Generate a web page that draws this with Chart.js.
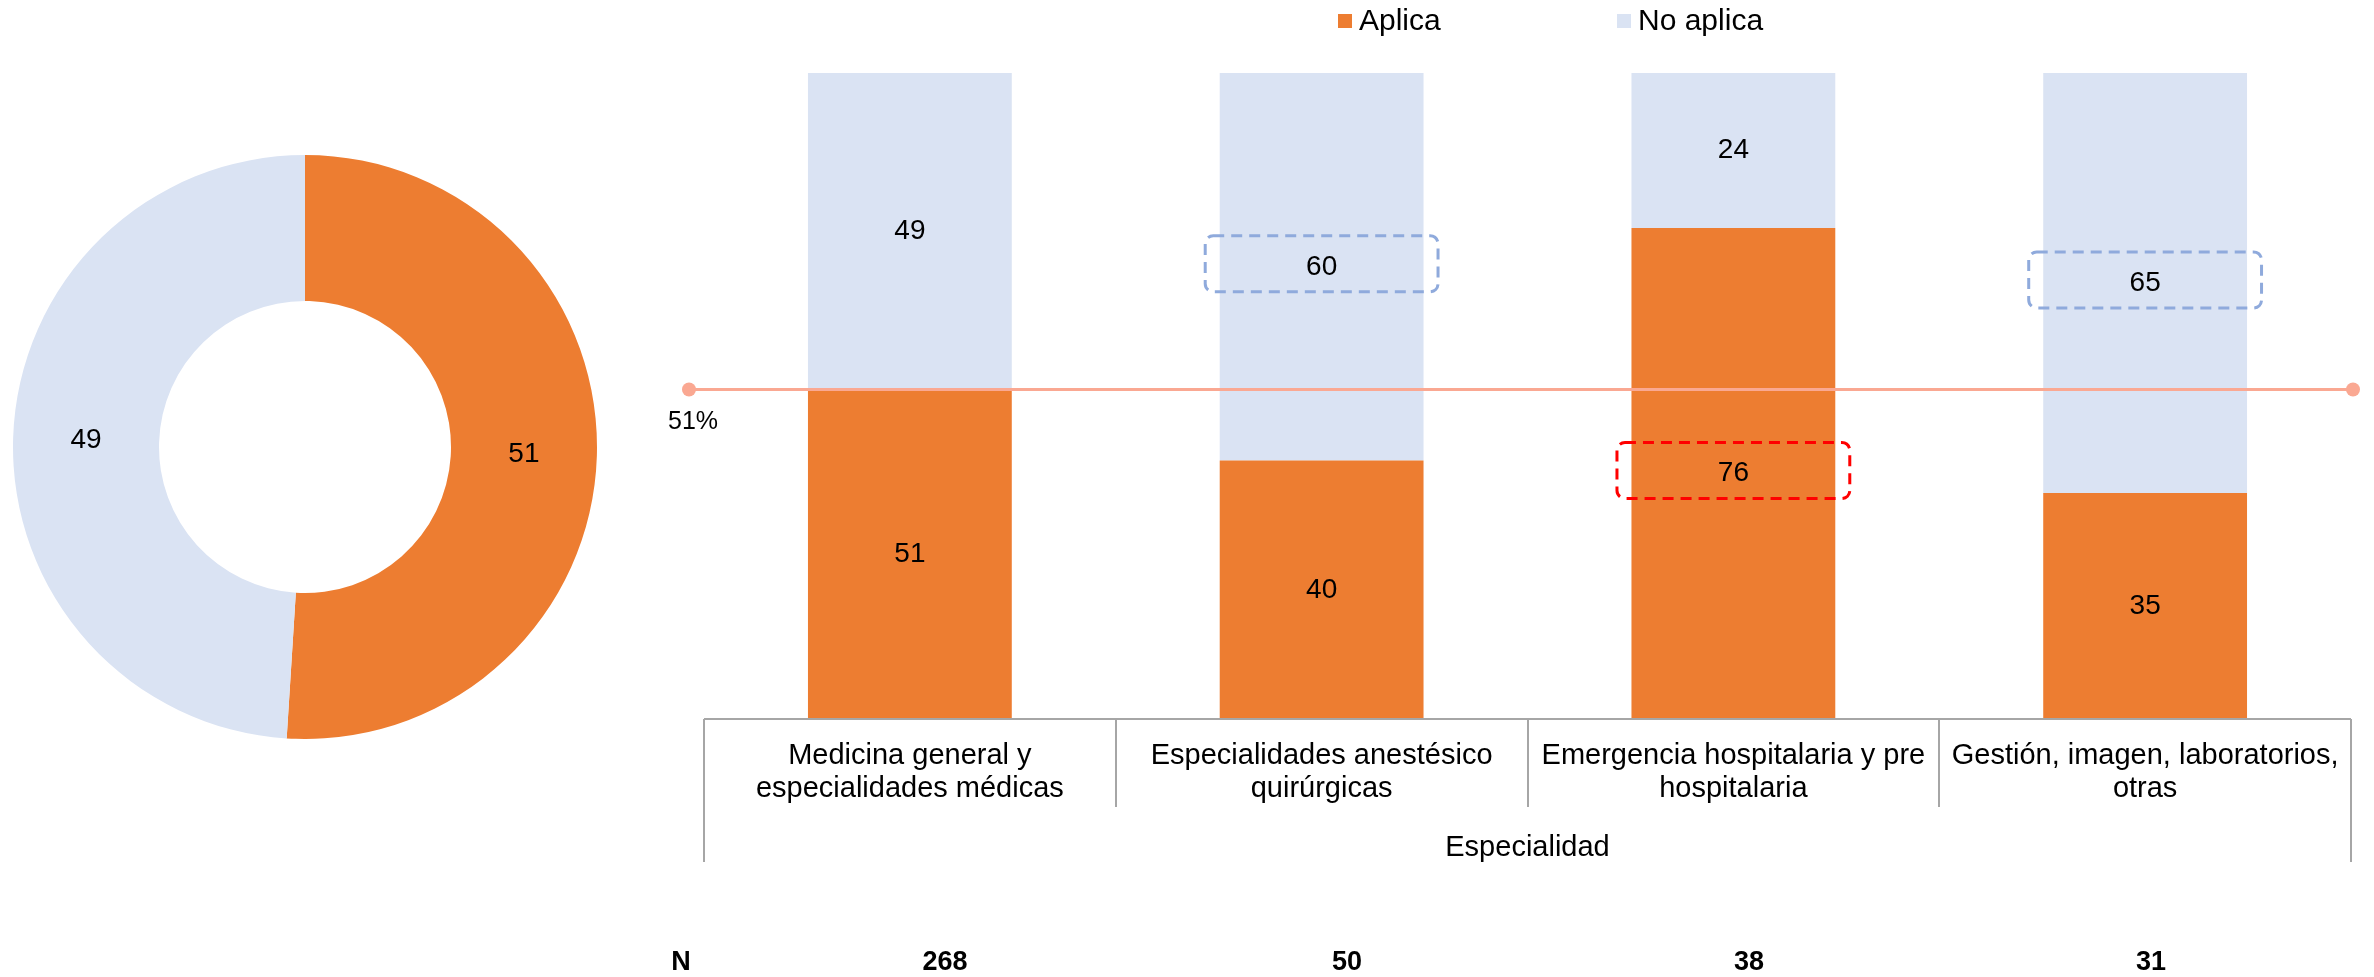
<!DOCTYPE html>
<html>
<head>
<meta charset="utf-8">
<title>Aplica / No aplica por especialidad</title>
<script src="https://cdn.jsdelivr.net/npm/chart.js@4.4.1/dist/chart.umd.min.js"></script>
<style>
  html, body { margin: 0; padding: 0; background: #fff; }
  #wrap { position: relative; width: 2374px; height: 977px; }
  #pie { position: absolute; left: 13px; top: 155px; width: 584px; height: 584px; }
  .capa { position: absolute; left: 0; top: 0; width: 2374px; height: 977px; }
</style>
</head>
<body>
<div id="wrap">
  <div class="capa"><canvas id="barCanvas"></canvas></div>
  <div class="capa"><canvas id="lineCanvas"></canvas></div>
  <div id="pie"><canvas id="pieCanvas"></canvas></div>
</div>
<script>
// Datos
const categorias = [
  ['Medicina general y', 'especialidades médicas'],
  ['Especialidades anestésico', 'quirúrgicas'],
  ['Emergencia hospitalaria y pre', 'hospitalaria'],
  ['Gestión, imagen, laboratorios,', 'otras']
];
const aplica = [51, 40, 76, 35];
const noAplica = [49, 60, 24, 65];
const totalGeneral = [51, 49];   // Aplica, No aplica
const promedio = 51;
const nMuestra = [268, 50, 38, 31];
// segmentos resaltados con recuadro punteado
const resaltaAplica = [false, false, true, false];
const resaltaNoAplica = [false, true, false, true];

// Estilos
const NARANJA = '#ED7D31';
const CELESTE = '#DAE3F3';
const SALMON = '#FAA892';
const GRIS = '#A6A6A6';
const FUENTE = '"Liberation Sans", Arial, sans-serif';

// Etiquetas del anillo
const etiquetasAnillo = {
  id: 'etiquetasAnillo',
  afterDatasetsDraw(chart) {
    const ctx = chart.ctx;
    const meta = chart.getDatasetMeta(0);
    ctx.save();
    ctx.font = '28px ' + FUENTE;
    ctx.fillStyle = '#000';
    ctx.textAlign = 'center';
    ctx.textBaseline = 'middle';
    meta.data.forEach((arc, i) => {
      const p = arc.getCenterPoint();
      ctx.fillText(String(chart.data.datasets[0].data[i]), p.x, p.y);
    });
    ctx.restore();
  }
};

new Chart(document.getElementById('pieCanvas'), {
  type: 'doughnut',
  data: {
    labels: ['Aplica', 'No aplica'],
    datasets: [{
      data: totalGeneral,
      backgroundColor: [NARANJA, CELESTE],
      borderWidth: 0
    }]
  },
  options: {
    responsive: true,
    maintainAspectRatio: false,
    animation: false,
    cutout: '50%',
    layout: { padding: 0 },
    plugins: { legend: { display: false }, tooltip: { enabled: false } }
  },
  plugins: [etiquetasAnillo]
});

// Extras del gráfico de barras: etiquetas, recuadros, eje, leyenda, N
const extrasBarras = {
  id: 'extrasBarras',
  afterDraw(chart) {
    const ctx = chart.ctx;
    const area = chart.chartArea;
    const xs = chart.scales.x;
    const n = categorias.length;
    const anchoCat = (area.right - area.left) / n;

    ctx.save();

    // valores dentro de las barras + recuadros
    [0, 1].forEach(d => {
      const meta = chart.getDatasetMeta(d);
      const resalta = d === 0 ? resaltaAplica : resaltaNoAplica;
      meta.data.forEach((bar, i) => {
        const cy = (bar.y + bar.base) / 2;
        if (resalta[i]) {
          const w = bar.width + 29, h = 56;
          ctx.beginPath();
          ctx.setLineDash([11, 7]);
          ctx.lineWidth = 3;
          ctx.strokeStyle = d === 0 ? '#FF0000' : '#8FAADC';
          ctx.roundRect(bar.x - w / 2, cy - h / 2 - 3, w, h, 8);
          ctx.stroke();
          ctx.setLineDash([]);
        }
        ctx.font = '28px ' + FUENTE;
        ctx.fillStyle = '#000';
        ctx.textAlign = 'center';
        ctx.textBaseline = 'middle';
        ctx.fillText(String(chart.data.datasets[d].data[i]), bar.x, cy);
      });
    });

    // eje de categorías
    ctx.strokeStyle = GRIS;
    ctx.lineWidth = 2;
    ctx.beginPath();
    ctx.moveTo(area.left, area.bottom);
    ctx.lineTo(area.right, area.bottom);
    for (let i = 0; i <= n; i++) {
      const x = Math.round(area.left + i * anchoCat);
      ctx.moveTo(x, area.bottom);
      ctx.lineTo(x, (i === 0 || i === n) ? area.bottom + 143 : area.bottom + 88);
    }
    ctx.stroke();

    ctx.font = '29px ' + FUENTE;
    ctx.fillStyle = '#000';
    ctx.textAlign = 'center';
    ctx.textBaseline = 'middle';
    categorias.forEach((lineas, i) => {
      const cx = xs.getPixelForValue(i);
      lineas.forEach((t, k) => ctx.fillText(t, cx, area.bottom + 37 + k * 33));
    });
    ctx.fillText('Especialidad', (area.left + area.right) / 2, area.bottom + 129);

    // fila N
    ctx.font = 'bold 27px ' + FUENTE;
    ctx.fillText('N', 681, 963);
    nMuestra.forEach((v, i) => ctx.fillText(String(v), 945 + i * 402, 963));

    // leyenda
    ctx.font = '30px ' + FUENTE;
    ctx.textAlign = 'left';
    const items = [[1338, 0], [1617, 1]];
    items.forEach(([x, d]) => {
      const ds = chart.data.datasets[d];
      ctx.fillStyle = ds.backgroundColor;
      ctx.fillRect(x, 14, 14, 14);
      ctx.fillStyle = '#000';
      ctx.fillText(ds.label, x + 21, 22);
    });

    ctx.restore();
  }
};

new Chart(document.getElementById('barCanvas'), {
  type: 'bar',
  data: {
    labels: categorias,
    datasets: [
      { label: 'Aplica', data: aplica, backgroundColor: NARANJA },
      { label: 'No aplica', data: noAplica, backgroundColor: CELESTE }
    ]
  },
  options: {
    responsive: true,
    maintainAspectRatio: false,
    animation: false,
    layout: { padding: { left: 704, right: 23, top: 73, bottom: 258 } },
    datasets: { bar: { grouped: false, categoryPercentage: 1, barPercentage: 0.495, borderWidth: 0 } },
    scales: {
      x: { display: false, stacked: true, offset: true },
      y: { display: false, stacked: true, min: 0, max: 100 }
    },
    plugins: { legend: { display: false }, tooltip: { enabled: false } }
  },
  plugins: [extrasBarras]
});

// Línea de promedio (capa superior, un poco más ancha que el área de barras)
const etiquetaPromedio = {
  id: 'etiquetaPromedio',
  afterDatasetsDraw(chart) {
    const ctx = chart.ctx;
    const p = chart.getDatasetMeta(0).data[0];
    ctx.save();
    ctx.font = '25px ' + FUENTE;
    ctx.fillStyle = '#000';
    ctx.textAlign = 'center';
    ctx.textBaseline = 'middle';
    ctx.fillText(promedio + '%', p.x + 4, p.y + 33);
    ctx.restore();
  }
};

new Chart(document.getElementById('lineCanvas'), {
  type: 'line',
  data: {
    datasets: [{
      label: 'Promedio',
      data: [{ x: 0, y: promedio }, { x: 1, y: promedio }],
      borderColor: SALMON,
      backgroundColor: SALMON,
      borderWidth: 3,
      pointRadius: 7,
      pointBorderWidth: 0,
      clip: false
    }]
  },
  options: {
    responsive: true,
    maintainAspectRatio: false,
    animation: false,
    layout: { padding: { left: 689, right: 21, top: 73, bottom: 258 } },
    scales: {
      x: { type: 'linear', display: false, min: 0, max: 1 },
      y: { display: false, min: 0, max: 100 }
    },
    plugins: { legend: { display: false }, tooltip: { enabled: false } }
  },
  plugins: [etiquetaPromedio]
});
</script>
</body>
</html>
